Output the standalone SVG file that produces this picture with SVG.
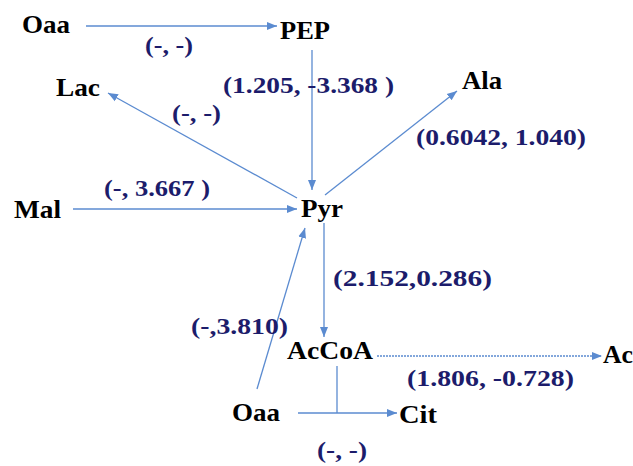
<svg xmlns="http://www.w3.org/2000/svg" width="633" height="466" viewBox="0 0 633 466">
  <style>
    .node { font-size: 25px; fill: #000; }
    .lbl { font-size: 24px; fill: #1c1c6b; }
    .edge { stroke: #5b8bd0; stroke-width: 1.3; fill: none; }
    .dash { stroke-dasharray: 2 1; }
  </style>
  <defs>
    <marker id="arr" markerUnits="userSpaceOnUse" markerWidth="10" markerHeight="10" viewBox="0 0 10 10" refX="10" refY="5" orient="auto">
      <path d="M0,1 L10,5 L0,9 Z" fill="#5b8bd0"/>
    </marker>
  </defs>
  <rect width="633" height="466" fill="#fff"/>

  <g id="connectors">
    <line class="edge" x1="86" y1="26" x2="277" y2="26" marker-end="url(#arr)"/>
    <line class="edge" x1="312" y1="50" x2="312" y2="190" marker-end="url(#arr)"/>
    <line class="edge" x1="297" y1="198" x2="108" y2="93" marker-end="url(#arr)"/>
    <line class="edge" x1="325" y1="195" x2="457" y2="91" marker-end="url(#arr)"/>
    <line class="edge" x1="73" y1="209" x2="297" y2="209" marker-end="url(#arr)"/>
    <line class="edge" x1="324" y1="223" x2="324" y2="337" marker-end="url(#arr)"/>
    <line class="edge" x1="257" y1="389" x2="305" y2="228" marker-end="url(#arr)"/>
    <line class="edge dash" x1="377" y1="356" x2="602" y2="356" marker-end="url(#arr)"/>
    <line class="edge" x1="337" y1="366" x2="337" y2="413"/>
    <line class="edge" x1="298" y1="413" x2="397" y2="413" marker-end="url(#arr)"/>
  </g>

  <g font-family="Liberation Serif, serif" font-weight="bold">
    <g id="n-oaa-top"><text class="node" x="22" y="33" textLength="48" lengthAdjust="spacingAndGlyphs">Oaa</text></g>
    <g id="n-pep"><text class="node" x="280" y="39" textLength="50" lengthAdjust="spacingAndGlyphs">PEP</text></g>
    <g id="n-lac"><text class="node" x="56" y="96" textLength="44" lengthAdjust="spacingAndGlyphs">Lac</text></g>
    <g id="n-ala"><text class="node" x="462" y="89" textLength="40" lengthAdjust="spacingAndGlyphs">Ala</text></g>
    <g id="n-mal"><text class="node" x="14" y="218" textLength="47" lengthAdjust="spacingAndGlyphs">Mal</text></g>
    <g id="n-pyr"><text class="node" x="301" y="217" textLength="42" lengthAdjust="spacingAndGlyphs">Pyr</text></g>
    <g id="n-accoa"><text class="node" x="287" y="359" textLength="86" lengthAdjust="spacingAndGlyphs">AcCoA</text></g>
    <g id="n-ac"><text class="node" x="603" y="363" textLength="30" lengthAdjust="spacingAndGlyphs">Ac</text></g>
    <g id="n-oaa-bottom"><text class="node" x="232" y="421" textLength="48" lengthAdjust="spacingAndGlyphs">Oaa</text></g>
    <g id="n-cit"><text class="node" x="399" y="423" textLength="38" lengthAdjust="spacingAndGlyphs">Cit</text></g>

    <g id="labels">
      <text class="lbl" x="145" y="53" textLength="48" lengthAdjust="spacingAndGlyphs">(-, -)</text>
      <text class="lbl" x="223" y="93" textLength="171" lengthAdjust="spacingAndGlyphs">(1.205, -3.368 )</text>
      <text class="lbl" x="172" y="121" textLength="49" lengthAdjust="spacingAndGlyphs">(-, -)</text>
      <text class="lbl" x="416" y="145" textLength="170" lengthAdjust="spacingAndGlyphs">(0.6042, 1.040)</text>
      <text class="lbl" x="104" y="196" textLength="106" lengthAdjust="spacingAndGlyphs">(-, 3.667 )</text>
      <text class="lbl" x="333" y="286" textLength="159" lengthAdjust="spacingAndGlyphs">(2.152,0.286)</text>
      <text class="lbl" x="191" y="334" textLength="97" lengthAdjust="spacingAndGlyphs">(-,3.810)</text>
      <text class="lbl" x="407" y="386" textLength="167" lengthAdjust="spacingAndGlyphs">(1.806, -0.728)</text>
      <text class="lbl" x="317" y="458" textLength="50" lengthAdjust="spacingAndGlyphs">(-, -)</text>
    </g>
  </g>
</svg>
